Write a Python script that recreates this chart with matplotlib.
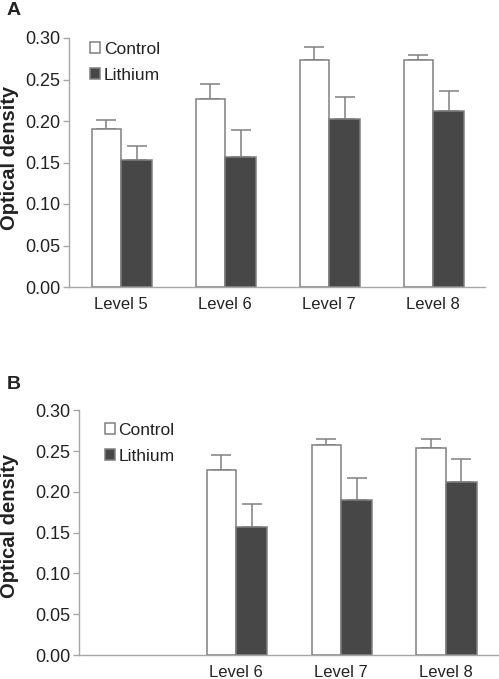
import matplotlib
matplotlib.use("Agg")
import matplotlib.pyplot as plt
import numpy as np

plt.rcParams['font.family'] = ['Liberation Sans', 'DejaVu Sans']

# panel A data
levels_a = ['Level 5', 'Level 6', 'Level 7', 'Level 8']
control_a = [0.190, 0.2265, 0.274, 0.273]
control_a_err = [0.011, 0.0185, 0.0147, 0.0065]
lithium_a = [0.1525, 0.1566, 0.202, 0.212]
lithium_a_err = [0.0175, 0.032, 0.027, 0.0237]

# panel B data (no Level 5)
levels_b = ['Level 6', 'Level 7', 'Level 8']
control_b = [0.227, 0.258, 0.254]
control_b_err = [0.018, 0.007, 0.011]
lithium_b = [0.157, 0.190, 0.2125]
lithium_b_err = [0.0285, 0.027, 0.028]

yticks = [0.0, 0.05, 0.10, 0.15, 0.20, 0.25, 0.30]

edge = '#808080'
dark = '#474747'
axcol = '#a6a6a6'
txt = '#222222'

fig = plt.figure(figsize=(4.99, 6.79), dpi=100)


def panel(ax, pos, labels, ctrl, ctrl_err, lith, lith_err, leg_anchor):
    pos = np.array(pos, dtype=float)
    zeros = np.zeros(len(pos))
    b1 = ax.bar(pos, ctrl, width=-0.28, align='edge', color='white',
                edgecolor=edge, linewidth=1.1, label='Control', zorder=2)
    b2 = ax.bar(pos, lith, width=0.30, align='edge', color=dark,
                edgecolor=edge, linewidth=1.1, label='Lithium', zorder=2)
    ax.errorbar(pos - 0.14, ctrl, yerr=[zeros, ctrl_err], fmt='none',
                ecolor=edge, elinewidth=1.1, capsize=7, capthick=1.1, zorder=1)
    ax.errorbar(pos + 0.15, lith, yerr=[zeros, lith_err], fmt='none',
                ecolor=edge, elinewidth=1.1, capsize=7, capthick=1.1, zorder=1)
    ax.set_xlim(-0.5, 3.5)
    ax.set_ylim(0, 0.30)
    ax.set_yticks(yticks)
    ax.set_yticklabels(['%.2f' % v for v in yticks])
    ax.set_xticks(pos)
    ax.set_xticklabels(labels)
    for s in ['top', 'right']:
        ax.spines[s].set_visible(False)
    for s in ['left', 'bottom']:
        ax.spines[s].set_color(axcol)
        ax.spines[s].set_linewidth(1.0)
    ax.tick_params(axis='y', length=4, width=1.0, color=axcol, pad=2,
                   labelsize=13, labelcolor=txt)
    ax.tick_params(axis='x', length=0, pad=7, labelsize=12, labelcolor=txt)
    ax.legend(handles=[b1, b2], loc='upper left', bbox_to_anchor=leg_anchor,
              frameon=False, fontsize=12.5, handlelength=0.6, handleheight=0.6,
              handletextpad=0.2, labelspacing=0.65, borderpad=0,
              borderaxespad=0, labelcolor=txt)


ax_a = fig.add_axes([69 / 499, 1 - 287 / 679, 416 / 499, 249 / 679])
panel(ax_a, [0, 1, 2, 3], levels_a, control_a, control_a_err,
      lithium_a, lithium_a_err, (0.05, 0.985))

ax_b = fig.add_axes([78.7 / 499, 1 - 655 / 679, 419.5 / 499, 244.7 / 679])
panel(ax_b, [1, 2, 3], levels_b, control_b, control_b_err,
      lithium_b, lithium_b_err, (0.062, 0.95))

fig.text(10 / 499, 1 - 158 / 679, 'Optical density', rotation=90,
         ha='center', va='center', fontsize=14.5, fontweight='bold', color=txt)
fig.text(10 / 499, 1 - 526 / 679, 'Optical density', rotation=90,
         ha='center', va='center', fontsize=14.5, fontweight='bold', color=txt)
fig.text(7 / 499, 1 - 2 / 679, 'A', ha='left', va='top',
         fontsize=14, fontweight='bold', color=txt)
fig.text(7 / 499, 1 - 376 / 679, 'B', ha='left', va='top',
         fontsize=14, fontweight='bold', color=txt)

fig.savefig('out.png', dpi=100)
